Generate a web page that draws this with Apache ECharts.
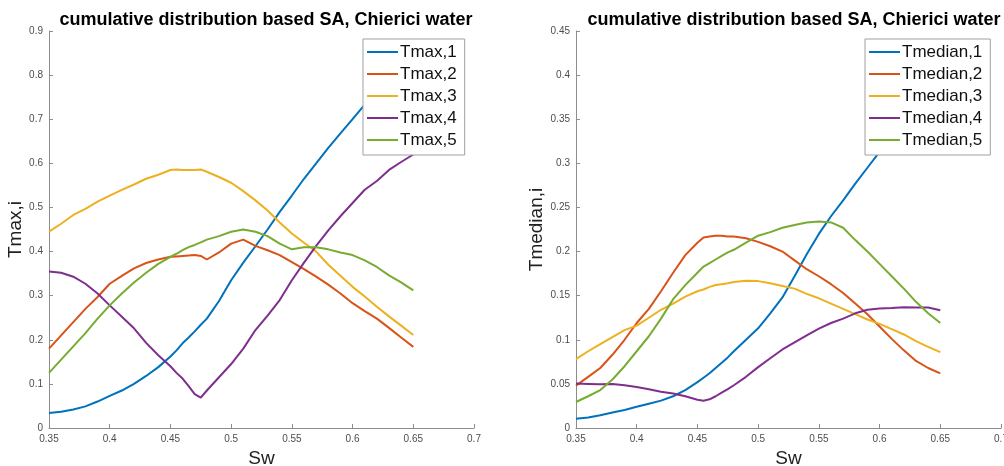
<!DOCTYPE html>
<html>
<head>
<meta charset="utf-8">
<script src="https://cdn.jsdelivr.net/npm/echarts/dist/echarts.min.js"></script>
<style>
html,body{margin:0;padding:0;background:#fff;}
#chart{width:1004px;height:466px;}
</style>
</head>
<body>
<div id="chart"></div>
<script>
// Sw values (x axis)
const sw = [0.35,0.36,0.37,0.38,0.39,0.40,0.41,0.42,0.43,0.44,0.45,0.455,0.46,0.465,0.47,0.475,0.48,0.49,0.50,0.51,0.52,0.53,0.54,0.55,0.56,0.57,0.58,0.59,0.60,0.61,0.62,0.63,0.64,0.65];

// Left panel: Tmax,i
const tmax1 = [0.034,0.037,0.042,0.049,0.060,0.073,0.085,0.100,0.118,0.138,0.162,0.176,0.192,0.205,0.219,0.234,0.248,0.288,0.335,0.375,0.412,0.450,0.490,0.527,0.565,0.600,0.635,0.668,0.700,0.733,0.762,0.790,0.815,0.840];
const tmax2 = [0.180,0.210,0.240,0.270,0.297,0.327,0.345,0.362,0.374,0.382,0.388,0.389,0.390,0.391,0.392,0.390,0.382,0.398,0.418,0.427,0.413,0.403,0.392,0.376,0.360,0.343,0.325,0.305,0.283,0.265,0.248,0.227,0.205,0.184];
const tmax3 = [0.445,0.463,0.483,0.497,0.513,0.527,0.540,0.552,0.565,0.574,0.585,0.586,0.585,0.585,0.585,0.586,0.581,0.569,0.556,0.537,0.516,0.493,0.466,0.441,0.420,0.400,0.370,0.345,0.320,0.298,0.275,0.253,0.232,0.211];
const tmax4 = [0.355,0.352,0.343,0.327,0.305,0.278,0.252,0.226,0.193,0.165,0.140,0.125,0.112,0.095,0.077,0.069,0.085,0.115,0.145,0.180,0.222,0.255,0.290,0.335,0.375,0.413,0.448,0.480,0.510,0.540,0.560,0.585,0.603,0.620];
const tmax5 = [0.125,0.155,0.185,0.215,0.248,0.278,0.305,0.330,0.352,0.372,0.388,0.395,0.403,0.410,0.415,0.421,0.427,0.435,0.445,0.450,0.445,0.435,0.418,0.405,0.410,0.410,0.405,0.398,0.392,0.380,0.365,0.346,0.330,0.312];

// Right panel: Tmedian,i
const tmed1 = [0.0105,0.012,0.0145,0.0175,0.0205,0.024,0.0275,0.031,0.036,0.043,0.052,0.057,0.062,0.068,0.074,0.080,0.087,0.100,0.113,0.130,0.148,0.172,0.197,0.220,0.240,0.258,0.277,0.295,0.313,0.332,0.350,0.368,0.385,0.400];
const tmed2 = [0.048,0.058,0.068,0.083,0.100,0.119,0.135,0.155,0.176,0.196,0.210,0.216,0.217,0.218,0.218,0.217,0.217,0.215,0.211,0.206,0.200,0.190,0.180,0.172,0.163,0.153,0.141,0.129,0.115,0.101,0.088,0.076,0.068,0.062];
const tmed3 = [0.078,0.087,0.095,0.103,0.111,0.116,0.125,0.134,0.141,0.149,0.155,0.157,0.160,0.162,0.163,0.164,0.1655,0.167,0.1665,0.164,0.161,0.158,0.152,0.147,0.141,0.135,0.129,0.123,0.118,0.112,0.106,0.0985,0.092,0.086];
const tmed4 = [0.0503,0.050,0.0497,0.050,0.0485,0.0465,0.044,0.041,0.039,0.036,0.032,0.031,0.0325,0.036,0.040,0.044,0.0485,0.058,0.069,0.079,0.089,0.097,0.105,0.1126,0.119,0.124,0.130,0.134,0.1355,0.136,0.137,0.1365,0.1365,0.1334];
const tmed5 = [0.0295,0.036,0.043,0.055,0.070,0.087,0.104,0.124,0.146,0.162,0.176,0.183,0.187,0.191,0.195,0.199,0.202,0.210,0.218,0.222,0.227,0.230,0.233,0.234,0.233,0.227,0.213,0.200,0.186,0.172,0.158,0.143,0.130,0.119];

const namesL = ['Tmax,1','Tmax,2','Tmax,3','Tmax,4','Tmax,5'];
const namesR = ['Tmedian,1','Tmedian,2','Tmedian,3','Tmedian,4','Tmedian,5'];
const colors = ['#0072BD','#D95319','#EDB120','#7E2F8E','#77AC30'];
const titleText = 'cumulative distribution based SA, Chierici water';

const FONT = '"Liberation Sans", Arial, Helvetica, sans-serif';

function pairs(vals){ return sw.map((x,i)=>[x, vals[i]]); }

function xAxisCfg(gi){
  return {
    gridIndex: gi, type:'value', min:0.35, max:0.7, interval:0.05,
    name:'Sw', nameLocation:'middle', nameGap:21,
    nameTextStyle:{fontFamily:FONT, fontSize:19, color:'#222'},
    axisLine:{show:true, lineStyle:{color:'#8c8c8c', width:1}},
    axisTick:{show:true, inside:true, length:4, lineStyle:{color:'#8c8c8c'}},
    axisLabel:{fontFamily:FONT, fontSize:10, color:'#4d4d4d', margin:6, showMinLabel:true, showMaxLabel:true},
    splitLine:{show:false}
  };
}
function yAxisCfg(gi, max, interval, name){
  return {
    gridIndex: gi, type:'value', min:0, max:max, interval:interval,
    name:name, nameLocation:'middle', nameGap:22,
    nameTextStyle:{fontFamily:FONT, fontSize:19, color:'#222'},
    axisLine:{show:true, lineStyle:{color:'#8c8c8c', width:1}},
    axisTick:{show:true, inside:true, length:4, lineStyle:{color:'#8c8c8c'}},
    axisLabel:{fontFamily:FONT, fontSize:10, color:'#4d4d4d', margin:6, showMinLabel:true, showMaxLabel:true},
    splitLine:{show:false}
  };
}
function legendCfg(names, left){
  return {
    data:names, orient:'vertical', left:left, top:39,
    backgroundColor:'#fff', borderColor:'#a0a0a0', borderWidth:1,
    padding:[3,8,5,4], itemGap:2, itemWidth:31, itemHeight:2, icon:'rect',
    textStyle:{fontFamily:FONT, fontSize:17, lineHeight:20, color:'#111', padding:[0,0,0,-3]}
  };
}

const seriesL = [tmax1,tmax2,tmax3,tmax4,tmax5];
const seriesR = [tmed1,tmed2,tmed3,tmed4,tmed5];
const series = [];
seriesL.forEach((v,i)=>series.push({
  name:namesL[i], type:'line', xAxisIndex:0, yAxisIndex:0, data:pairs(v),
  showSymbol:false, symbol:'none', color:colors[i], lineStyle:{width:2, color:colors[i]}
}));
seriesR.forEach((v,i)=>series.push({
  name:namesR[i], type:'line', xAxisIndex:1, yAxisIndex:1, data:pairs(v),
  showSymbol:false, symbol:'none', color:colors[i], lineStyle:{width:2, color:colors[i]}
}));

const chart = echarts.init(document.getElementById('chart'), null, {renderer:'canvas'});
chart.setOption({
  animation:false,
  backgroundColor:'#fff',
  title:[
    {text:titleText, left:261, top:6, textAlign:'center', textStyle:{fontFamily:FONT, fontWeight:'bold', fontSize:18, color:'#000'}},
    {text:titleText, left:789, top:6, textAlign:'center', textStyle:{fontFamily:FONT, fontWeight:'bold', fontSize:18, color:'#000'}}
  ],
  grid:[
    {left:49, top:31, width:425, height:397, containLabel:false, outerBoundsMode:'none'},
    {left:576, top:31, width:425, height:397, containLabel:false, outerBoundsMode:'none'}
  ],
  xAxis:[xAxisCfg(0), xAxisCfg(1)],
  yAxis:[yAxisCfg(0,0.9,0.1,'Tmax,i'), yAxisCfg(1,0.45,0.05,'Tmedian,i')],
  legend:[legendCfg(namesL,363), legendCfg(namesR,865)],
  series:series
});
</script>
</body>
</html>
